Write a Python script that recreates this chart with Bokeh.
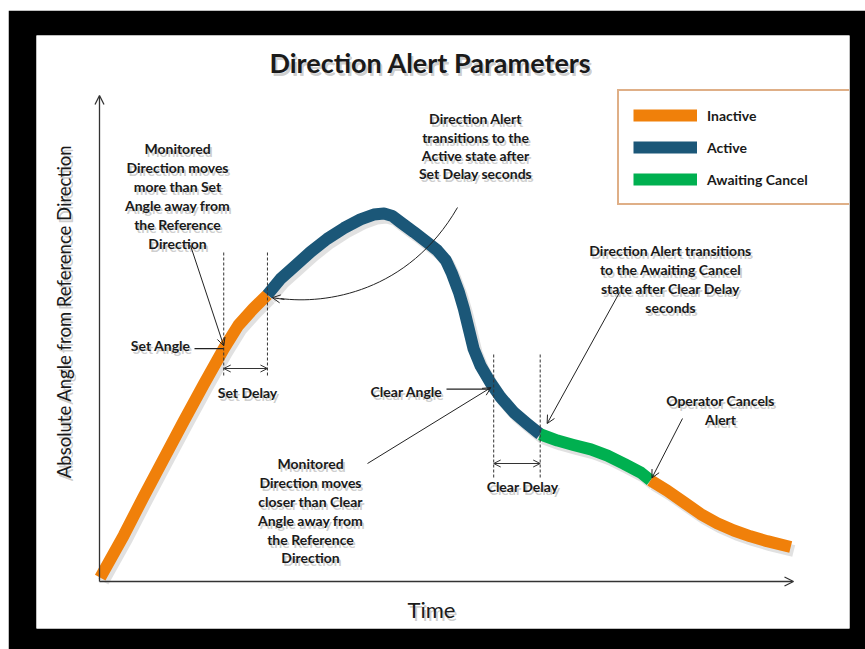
import numpy as np
from bokeh.plotting import figure
from bokeh.models import Range1d, Arrow, OpenHead, Legend, LegendItem, ColumnDataSource
from bokeh.core.properties import value
from bokeh.embed import file_html
from bokeh.resources import INLINE

# ---------------- data (time units 0..100, angle units 0..100) ----------------
t_inactive = [0.1, 3.5, 6.3, 9.2, 12.1, 15.0, 17.9, 20.0, 22.2, 24.2]
a_inactive = [0.8, 9.5, 17.3, 25.1, 32.9, 40.5, 47.9, 52.7, 56.2, 59.0]

t_active = [24.2, 26.1, 28.0, 30.4, 32.8, 35.2, 37.6, 39.5, 41.0, 42.2, 43.4, 45.3, 47.2, 48.7,
            49.9, 50.8, 51.8, 52.5, 53.2, 53.9, 54.9, 56.3, 57.8, 59.7, 61.6, 63.5]
a_active = [59.0, 62.3, 64.7, 67.8, 70.5, 72.7, 74.5, 75.5, 75.7, 75.2, 73.9, 71.9, 69.8, 68.1,
            66.1, 63.3, 59.5, 56.1, 52.0, 47.9, 44.4, 41.0, 37.9, 34.8, 32.5, 30.3]

t_awaiting = [63.5, 66.0, 68.3, 70.8, 73.2, 75.6, 78.0, 79.4]
a_awaiting = [30.3, 29.0, 28.1, 27.2, 25.9, 24.2, 22.4, 20.8]

t_inactive2 = [79.4, 81.8, 84.2, 86.6, 89.0, 91.4, 93.8, 96.2, 99.6]
a_inactive2 = [20.8, 18.7, 16.3, 13.9, 12.0, 10.5, 9.3, 8.3, 7.1]

set_angle_t, set_angle_a = 17.9, 47.9
set_delay_end_t, set_delay_end_a = 24.2, 59.0
clear_angle_t, clear_angle_a = 56.8, 39.6
clear_delay_end_t, clear_delay_end_a = 63.5, 30.3
cancel_t, cancel_a = 79.4, 20.8

legend_labels = ["Inactive", "Active", "Awaiting Cancel"]

ORANGE = "#F0800A"
BLUE = "#1B5778"
GREEN = "#00B050"
INK = "#1a1a1a"
FONT = "Lato"

# ---------------- layout helpers (pixel -> data) ----------------
PX_T, PX_A = 6.94, 4.86
OX, OY = 99, 581


def X(px):
    return (px - OX) / PX_T


def Y(py):
    return (OY - py) / PX_A


p = figure(width=857, height=639,
           x_range=Range1d(X(36), X(849)), y_range=Range1d(Y(628), Y(35)),
           output_backend="svg", toolbar_location=None,
           x_axis_location=None, y_axis_location=None,
           min_border_left=28, min_border_right=16, min_border_top=25, min_border_bottom=21,
           background_fill_color="white", border_fill_color="black",
           outline_line_color=None)
p.margin = (10, 0, 0, 8)
p.xgrid.visible = False
p.ygrid.visible = False

# ---------------- axes as arrows ----------------
for xs, ys, xe, ye in [(0, 0, 100, 0), (0, 0, 0, 100)]:
    p.add_layout(Arrow(x_start=xs, y_start=ys, x_end=xe, y_end=ye,
                       line_color="#333333", line_width=1.3,
                       end=OpenHead(size=9, line_width=1.3, line_color="#333333")))

# ---------------- curve (with soft shadow) ----------------
dx, dy = 3 / PX_T, -4 / PX_A
segs = [(t_inactive, a_inactive, ORANGE), (t_active, a_active, BLUE),
        (t_awaiting, a_awaiting, GREEN), (t_inactive2, a_inactive2, ORANGE)]
for t, a, c in segs:
    p.line(np.array(t) + dx, np.array(a) + dy, line_width=12, line_color="#888888",
           line_alpha=0.25, line_join="round")
rends = []
for t, a, c in segs:
    r = p.line(t, a, line_width=12, line_color=c, line_join="round", line_cap="butt")
    rends.append(r)

# ---------------- dashed markers ----------------
dash_t = [set_angle_t, set_delay_end_t, clear_angle_t, clear_delay_end_t]
dash_y0 = [Y(375), Y(375), Y(477), Y(477)]
dash_y1 = [Y(252), Y(252), Y(353), Y(353)]
p.segment(x0=dash_t, y0=dash_y0, x1=dash_t, y1=dash_y1, line_color="#333333",
          line_width=1, line_dash="3 2")

# delay double arrows
for t0, t1, py in [(set_angle_t, set_delay_end_t, 368), (clear_angle_t, clear_delay_end_t, 463)]:
    p.add_layout(Arrow(x_start=t0, y_start=Y(py), x_end=t1, y_end=Y(py),
                       line_color="#333333", line_width=1,
                       start=OpenHead(size=7, line_width=1, line_color="#333333"),
                       end=OpenHead(size=7, line_width=1, line_color="#333333")))

# label leader lines
p.segment(x0=[X(194), X(446)], y0=[set_angle_a, clear_angle_a],
          x1=[set_angle_t, clear_angle_t - 0.6], y1=[set_angle_a, clear_angle_a],
          line_color="#222222", line_width=1.2)


def arrow(x0, y0, x1, y1):
    p.add_layout(Arrow(x_start=x0, y_start=y0, x_end=x1, y_end=y1,
                       line_color="#222222", line_width=1,
                       end=OpenHead(size=8, line_width=1, line_color="#222222")))


arrow(X(190), Y(245), set_angle_t, set_angle_a + 0.6)
arrow(X(367), Y(463), clear_angle_t - 0.4, clear_angle_a + 0.3)
arrow(X(619), Y(292), clear_delay_end_t + 1.0, clear_delay_end_a + 2.2)
arrow(X(682), Y(418), cancel_t + 0.2, cancel_a + 0.5)

# curved arrow to the Active transition
p.bezier(x0=[X(457)], y0=[Y(207)], x1=[X(280)], y1=[Y(298)],
         cx0=[X(408)], cy0=[Y(292)], cx1=[X(325)], cy1=[Y(304)],
         line_color="#222222", line_width=1)
arrow(X(284), Y(299), set_delay_end_t + 0.7, set_delay_end_a - 0.6)


# ---------------- texts ----------------
def txt(xs, ys, texts, size, bold=True, align="center", angle=0.0, shadow=True):
    src = ColumnDataSource(dict(x=[X(v) for v in xs], y=[Y(v) for v in ys], text=texts))
    style = "bold" if bold else "normal"
    if shadow:
        p.text("x", "y", "text", source=src, text_font=value(FONT), text_font_size=size,
               text_font_style=style, text_align=align, text_baseline="middle",
               angle=angle, text_color="#555555", text_alpha=0.3, x_offset=2, y_offset=3)
    p.text("x", "y", "text", source=src, text_font=value(FONT), text_font_size=size,
           text_font_style=style, text_align=align, text_baseline="middle",
           angle=angle, text_color=INK)


ANN = "14px"


def block(cx, ys, lines):
    txt([cx] * len(lines), ys, lines, ANN)


txt([430], [62], ["Direction Alert Parameters"], "27px")
txt([431], [609], ["Time"], "22px", bold=False)
txt([63], [311], ["Absolute Angle from Reference Direction"], "18.5px", bold=False, angle=np.pi / 2)

block(177, [148, 167, 186, 205, 224, 243],
      ["Monitored", "Direction moves", "more than Set", "Angle away from", "the Reference", "Direction"])
txt([190], [345], ["Set Angle"], ANN, align="right")
txt([247], [392], ["Set Delay"], ANN)
block(475, [118, 137, 155, 173],
      ["Direction Alert", "transitions to the", "Active state after", "Set Delay seconds"])
txt([442], [391], ["Clear Angle"], ANN, align="right")
txt([522], [486], ["Clear Delay"], ANN)
block(310, [463, 482, 501, 520, 539, 557],
      ["Monitored", "Direction moves", "closer than Clear", "Angle away from", "the Reference", "Direction"])
block(670, [250, 269, 288, 307],
      ["Direction Alert transitions", "to the Awaiting Cancel", "state after Clear Delay", "seconds"])
block(720, [400, 419], ["Operator Cancels", "Alert"])

# ---------------- legend ----------------
legend = Legend(items=[LegendItem(label=legend_labels[i], renderers=[rends[i]]) for i in range(3)],
                location=(581, 423), margin=0, padding=14, spacing=12,
                glyph_width=64, glyph_height=20, label_height=20, label_standoff=10,
                label_width=128, label_text_font=FONT, label_text_font_size="14px",
                label_text_font_style="bold", label_text_color=INK,
                border_line_color="#C0600F", border_line_width=2,
                background_fill_color="white", background_fill_alpha=1.0)
p.add_layout(legend)

open("out.html", "w").write(file_html(p, INLINE, title="Direction Alert Parameters"))
